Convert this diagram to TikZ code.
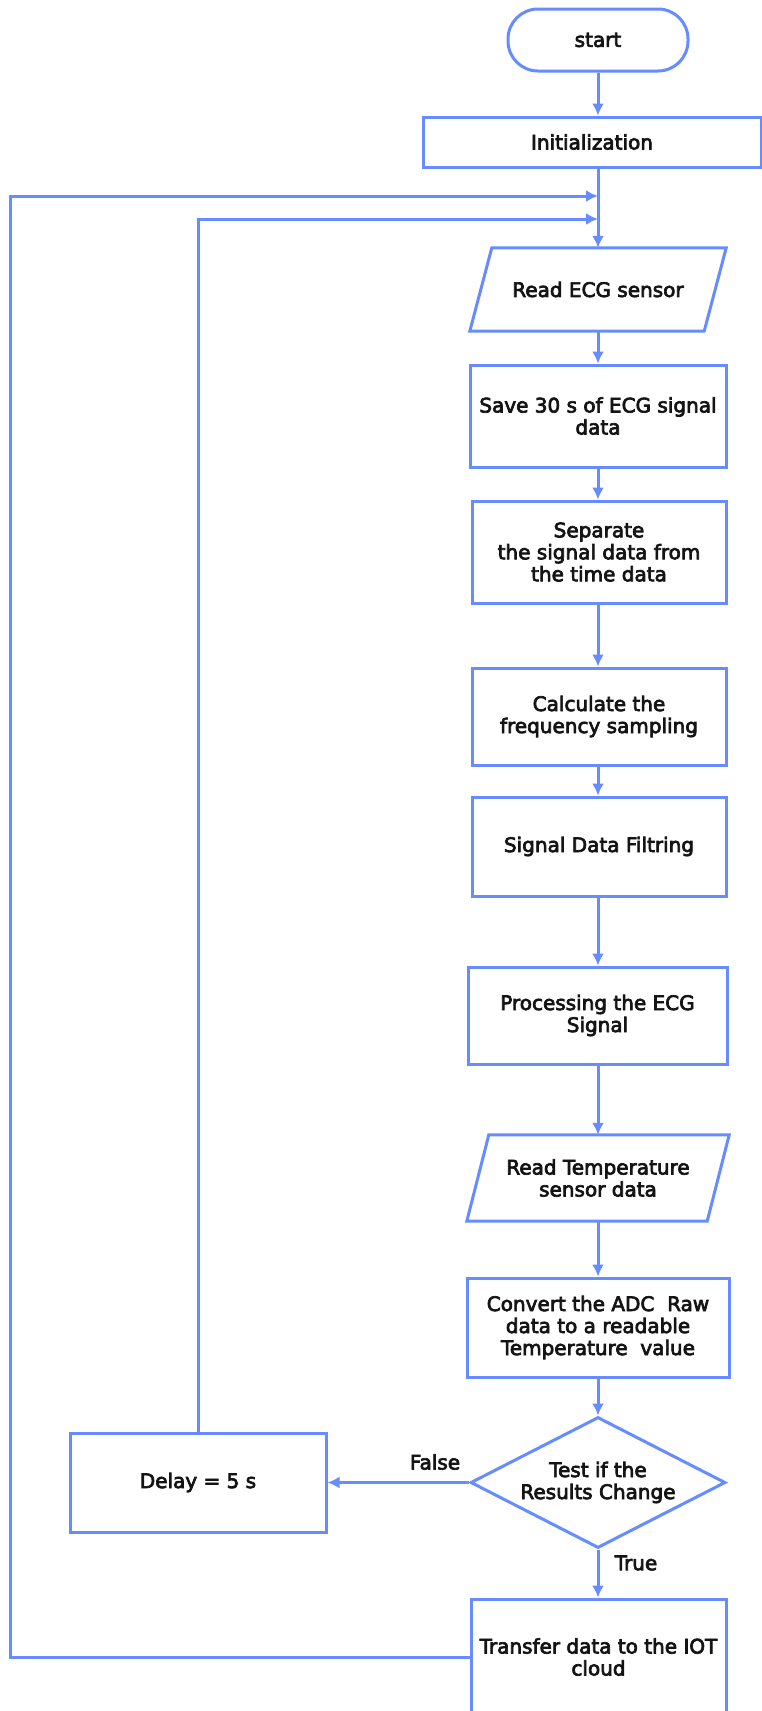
\documentclass[tikz,border=0pt]{standalone}
\usepackage{fontspec}
\setmainfont{DejaVu Sans}
\newfontfamily\flowfont{DejaVu Sans}[FakeBold=3.5]
\usetikzlibrary{arrows.meta,shapes.geometric,calc}
\definecolor{flowblue}{RGB}{102,140,255}
\definecolor{inkdark}{RGB}{20,20,20}
\tikzset{
  flowline/.style={draw=flowblue, line width=3pt},
  txtnode/.style={rectangle, inner sep=0pt, align=center, text=inkdark,
    font=\flowfont\fontsize{20}{22}\selectfont},
  procbox/.style={txtnode, flowline},
  termbox/.style={txtnode, flowline, rounded corners=30pt},
  decbox/.style={txtnode, flowline, diamond, aspect=1.95},
  conn/.style={flowline, -{Latex[length=12pt,width=12pt]}},
  lbl/.style={txtnode}
}
\begin{document}
\begin{tikzpicture}[x=1pt,y=-1pt]
\useasboundingbox (0,0) rectangle (762,1711);
\clip (0,0) rectangle (762,1711);
\fill[white] (0,0) rectangle (762,1711);

% main column
\node[termbox, minimum width=180pt, minimum height=62pt] (start) at (598,40) {start};
\node[procbox, minimum width=338pt, minimum height=50pt] (init) at (592,142) {Initialization};

\node[txtnode, minimum width=234pt, minimum height=83pt] (ecg) at (598,289.5) {Read ECG sensor};
\draw[flowline] ([xshift=11pt]ecg.north west) -- ([xshift=11pt]ecg.north east)
  -- ([xshift=-11pt]ecg.south east) -- ([xshift=-11pt]ecg.south west) -- cycle;

\node[procbox, minimum width=256pt, minimum height=102pt] (save) at (598,416) {Save 30 s of ECG signal\\data};
\node[procbox, minimum width=254pt, minimum height=102pt] (sep) at (599,552) {Separate\\the signal data from\\the time data};
\node[procbox, minimum width=254pt, minimum height=97pt] (calc) at (599,716.5) {Calculate the\\frequency sampling};
\node[procbox, minimum width=254pt, minimum height=99pt] (filt) at (599,846.5) {Signal Data Filtring};
\node[procbox, minimum width=259pt, minimum height=97pt] (proc) at (597.5,1015.5) {Processing the ECG\\Signal};

\node[txtnode, minimum width=240pt, minimum height=86pt] (temp) at (598,1178) {Read Temperature\\sensor data};
\draw[flowline] ([xshift=11pt]temp.north west) -- ([xshift=11pt]temp.north east)
  -- ([xshift=-11pt]temp.south east) -- ([xshift=-11pt]temp.south west) -- cycle;

\node[procbox, minimum width=262pt, minimum height=99pt] (conv) at (598,1327.5) {Convert the ADC~~Raw\\data to a readable\\Temperature~~value};
\node[decbox, minimum width=255pt, minimum height=131pt] (test) at (598,1482.5) {Test if the\\Results Change};
\node[procbox, minimum width=256pt, minimum height=99pt] (delay) at (198,1482.5) {Delay = 5 s};
\node[procbox, minimum width=255pt, minimum height=116pt] (send) at (598.5,1657) {Transfer data to the IOT\\cloud};

% branch labels
\node[lbl] (lfalse) at (435,1462) {False};
\node[lbl] (ltrue) at (636,1563) {True};

% loop entry points on the main line
\coordinate (jouter) at (598,196);
\coordinate (jinner) at (598,219);

% connectors, kept vertical along the main column
\draw[conn] (start.south) -- (start.south |- init.north);
\draw[flowline] (start.south |- init.south) -- (jouter);
\draw[conn] (jouter) -- (ecg.north);
\draw[conn] (ecg.south) -- (ecg.south |- save.north);
\draw[conn] (save.south) -- (save.south |- sep.north);
\draw[conn] (save.south |- sep.south) -- (save.south |- calc.north);
\draw[conn] (save.south |- calc.south) -- (save.south |- filt.north);
\draw[conn] (save.south |- filt.south) -- (save.south |- proc.north);
\draw[conn] (save.south |- proc.south) -- (temp.north);
\draw[conn] (temp.south) -- (conv.north);
\draw[conn] (conv.south) -- (test.north);
\draw[conn] (test.south) -- (test.south |- send.north);
\draw[conn] (test.west) -- (delay.east);
\draw[conn] (delay.north) |- (jinner);
\draw[conn] (send.west) -| (10,196) -- (jouter);
\end{tikzpicture}
\end{document}
